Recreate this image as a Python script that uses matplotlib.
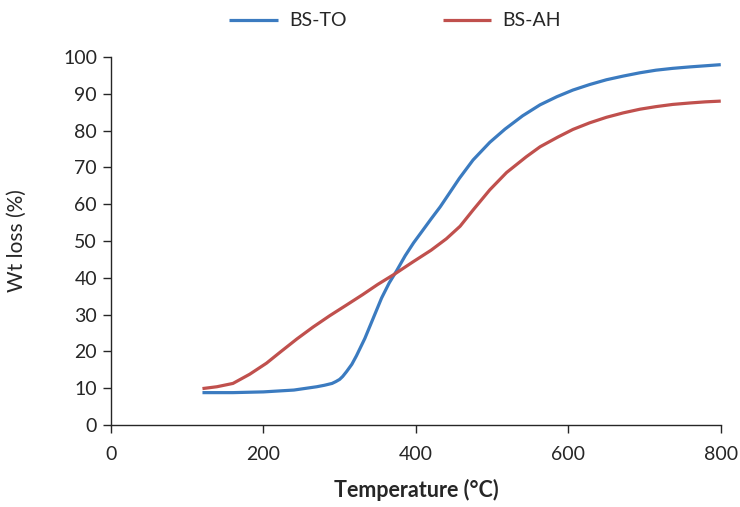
import matplotlib
matplotlib.use("Agg")
import matplotlib.pyplot as plt

plt.rcParams['font.family'] = ['Lato', 'DejaVu Sans']

# Thermogravimetric weight loss curves
temp_to = [120, 160, 200, 240, 270, 280, 290, 295, 300, 304, 309, 316, 322, 333, 345, 355,
           365, 375, 386, 397, 408, 420, 432, 445, 457, 475, 497, 517, 540, 563, 585, 606,
           628, 650, 672, 694, 715, 737, 760, 780, 800]
loss_to = [8.8, 8.8, 9.0, 9.5, 10.4, 10.8, 11.3, 11.8, 12.4, 13.2, 14.5, 16.5, 18.8, 23.5, 29.5, 34.5,
           38.6, 42.0, 46.0, 49.5, 52.6, 56.0, 59.3, 63.3, 67.0, 72.0, 76.8, 80.4, 84.0, 87.0, 89.2, 91.0,
           92.5, 93.8, 94.8, 95.7, 96.4, 96.9, 97.3, 97.6, 97.9]

temp_ah = [120, 139, 160, 182, 204, 222, 244, 265, 287, 309, 330, 350, 372, 396, 420,
           440, 458, 475, 497, 519, 545, 563, 586, 606, 628, 650, 672, 694, 715, 737,
           760, 780, 800]
loss_ah = [9.9, 10.4, 11.3, 13.8, 16.8, 19.8, 23.4, 26.6, 29.7, 32.6, 35.4, 38.2, 41.0, 44.3, 47.5,
           50.6, 54.0, 58.4, 63.9, 68.6, 72.9, 75.6, 78.2, 80.3, 82.1, 83.6, 84.8, 85.8, 86.5, 87.1,
           87.5, 87.8, 88.0]

series_names = ['BS-TO', 'BS-AH']
colors = ['#3B7BC0', '#C0504D']
x_ticks = [0, 200, 400, 600, 800]
y_ticks = list(range(0, 101, 10))
ink = '#262626'

fig = plt.figure(figsize=(7.4, 5.07), dpi=100)
ax = fig.add_axes([0.15, 0.1617, 0.824, 0.726])

ax.plot(temp_to, loss_to, color=colors[0], lw=2.3, label=series_names[0],
        solid_capstyle='butt', solid_joinstyle='round')
ax.plot(temp_ah, loss_ah, color=colors[1], lw=2.3, label=series_names[1],
        solid_capstyle='butt', solid_joinstyle='round')

ax.set_xlim(0, 800)
ax.set_ylim(0, 100)
ax.set_xticks(x_ticks)
ax.set_yticks(y_ticks)

for side in ['top', 'right']:
    ax.spines[side].set_visible(False)
for side in ['left', 'bottom']:
    ax.spines[side].set_color(ink)
    ax.spines[side].set_linewidth(1.0)

ax.tick_params(axis='both', direction='out', length=6, width=1.0,
               color=ink, labelsize=14, labelcolor=ink)
ax.tick_params(axis='x', pad=9)
ax.tick_params(axis='y', pad=4)

ax.set_ylabel('Wt loss (%)', fontsize=15, color=ink)
ax.yaxis.set_label_coords(-0.154, 0.5)
ax.set_xlabel('Temperature (°C)', fontsize=15.5, fontweight='bold', color=ink)
ax.xaxis.set_label_coords(0.5, -0.177)
ax.xaxis.label.set_va('center')
ax.yaxis.label.set_va('center')

fig.legend(loc='upper center', bbox_to_anchor=(0.534, 1.01), ncol=2,
           frameon=False, fontsize=14, handlelength=2.5, handletextpad=0.57,
           columnspacing=4.95, labelcolor=ink)

fig.savefig('out.png', dpi=100)
